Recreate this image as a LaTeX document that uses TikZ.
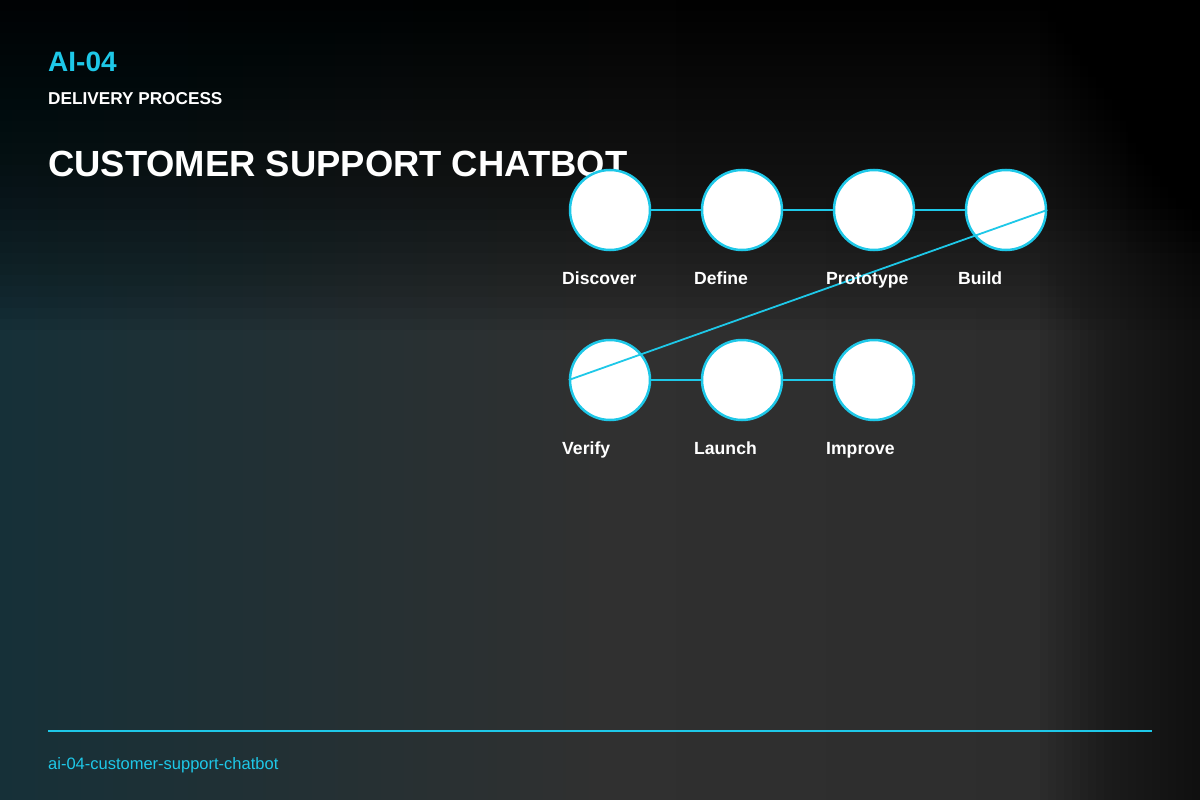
\documentclass[tikz,border=0pt]{standalone}
\usepackage{fontspec}
\setmainfont{Liberation Sans}
\definecolor{cy}{HTML}{1EC8E8}
\begin{document}
\begin{tikzpicture}[x=1pt,y=-1pt,
  stepc/.style={circle,draw=cy,line width=2.5pt,fill=white,minimum size=80pt,inner sep=0},
  lbl/.style={anchor=base west,text=white,font=\fontsize{17.6}{20}\selectfont\bfseries,inner sep=0},
  conn/.style={draw=cy,line width=2.5pt}]
\useasboundingbox (0,0) rectangle (1200,800);
\fill[left color={rgb,255:red,22;green,48;blue,56},right color={rgb,255:red,44;green,44;blue,44},middle color={rgb,255:red,48;green,48;blue,48}] (0,0) rectangle (1200,800);
\foreach \i in {1,...,30}
  \fill[black,opacity=0.05] (0,0) rectangle (1200,\i*11);
\foreach \i in {1,...,20}
  \fill[black,opacity=0.035] (1200-\i*8,0) rectangle (1200,800);
\node[anchor=base west,text=cy,font=\fontsize{28}{30}\selectfont\bfseries,inner sep=0] (code) at (48,72) {AI-04};
\node[anchor=base west,text=white,font=\fontsize{17.2}{20}\selectfont\bfseries,inner sep=0] (sub) at (48,104) {DELIVERY PROCESS};
\node[anchor=base west,text=white,font=\fontsize{36.4}{40}\selectfont\bfseries,inner sep=0] (title) at (48,176) {CUSTOMER SUPPORT CHATBOT};
\foreach \n/\x/\y in {a/610/210,b/742/210,c/874/210,d/1006/210,e/610/380,f/742/380,g/874/380}
  \node[stepc] (\n) at (\x,\y) {};
\draw[conn] (a) -- (b); \draw[conn] (b) -- (c); \draw[conn] (c) -- (d);
\draw[conn] (e) -- (f); \draw[conn] (f) -- (g);
\draw[cy,line width=1.8pt] (d.east) -- (e.west);
\node[lbl] (la) at (562,284) {Discover};
\node[lbl] (lb) at (694,284) {Define};
\node[lbl] (lc) at (826,284) {Prototype};
\node[lbl] (ld) at (958,284) {Build};
\node[lbl] (le) at (562,454) {Verify};
\node[lbl] (lf) at (694,454) {Launch};
\node[lbl] (lg) at (826,454) {Improve};
\coordinate (r1) at (48,731); \coordinate (r2) at (1152,731);
\draw[cy,line width=1.5pt] (r1) -- (r2);
\node[anchor=base west,text=cy,font=\fontsize{16.5}{20}\selectfont,inner sep=0] (foot) at (48,769) {ai-04-customer-support-chatbot};
\end{tikzpicture}
\end{document}
